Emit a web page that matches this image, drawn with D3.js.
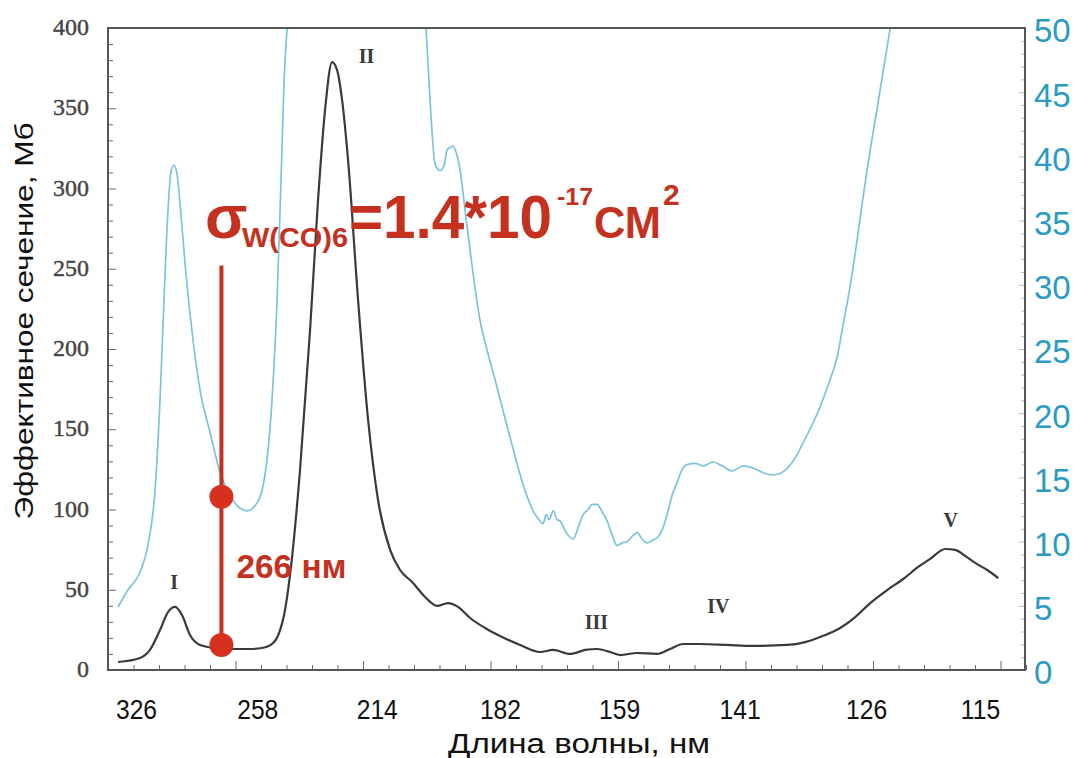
<!DOCTYPE html>
<html>
<head>
  <meta charset="utf-8"/>
  <title>W(CO)6</title>
  <style>
    body { margin: 0; background: #fff; }
    svg { display: block; }
  </style>
</head>
<body>
<div id="graph"></div>
<script src="https://cdn.jsdelivr.net/npm/d3@7"></script>
<script>
    // x tick labels, nm (spaced 1 eV apart)
    var tickNm = [326, 258, 214, 182, 159, 141, 126, 115];
    var leftTicks = [0, 50, 100, 150, 200, 250, 300, 350, 400];
    var rightTicks = [0, 5, 10, 15, 20, 25, 30, 35, 40, 45, 50];

    // black curve: [photon energy eV, cross-section Mb]
    var crossSection = [
      [3.655,5.0],[3.837,7.5],[3.919,12.5],[4.002,24.9],[4.068,36.1],[4.126,39.3],
      [4.184,34.3],[4.250,21.8],[4.333,15.6],[4.457,13.7],[4.581,13.1],[4.746,13.1],
      [4.846,13.7],[4.937,16.8],[4.995,24.9],[5.028,34.3],[5.077,59],[5.160,124.6],
      [5.243,211.9],[5.309,292.9],[5.367,349],[5.425,378.8],[5.466,373.9],[5.508,355],
      [5.557,317.8],[5.640,230.5],[5.723,155.8],[5.805,105.9],[5.905,74.8],[5.987,62.3],
      [6.087,54.8],[6.194,45.5],[6.293,39.9],[6.384,41.7],[6.467,39.3],[6.566,32.4],
      [6.690,26.2],[6.814,21.2],[6.980,15.6],[7.145,11.2],[7.253,12.5],[7.393,10.0],
      [7.518,12.5],[7.617,13.1],[7.724,11.2],[7.807,9.3],[7.947,10.6],[8.113,10.0],
      [8.220,13.1],[8.328,16.2],[8.468,16.2],[8.692,15.6],[8.907,15.0],[9.188,15.6],
      [9.337,17.4],[9.461,20.6],[9.627,26.2],[9.751,33.0],[9.875,41.7],[10.015,49.8],
      [10.148,56.7],[10.272,64.2],[10.371,69.2],[10.495,75.4],[10.578,74.8],[10.661,71.0],
      [10.743,66.7],[10.843,62.3],[10.934,57.3]
    ];

    // blue curve: [eV, right axis value], null = off the top of the plot
    var absorption = [
      [3.655,4.91],[3.737,6.23],[3.837,7.63],[3.903,9.74],[3.961,14.0],[4.002,21.0],
      [4.035,28.8],[4.068,35.8],[4.093,38.8],[4.118,39.3],[4.143,38.6],[4.176,35.4],
      [4.217,30.8],[4.275,25.7],[4.333,21.8],[4.416,18.5],[4.498,15.4],[4.581,13.6],
      [4.664,12.6],[4.722,12.4],[4.788,12.8],[4.846,14.0],[4.887,16.4],[4.928,21.0],
      [4.970,28.8],[5.003,38.2],[5.028,45.9],[5.053,50],
      [5.6,null],
      [6.202,50],[6.235,44.4],[6.277,39.4],[6.318,38.9],[6.351,39.3],[6.376,40.5],
      [6.401,40.7],[6.426,40.8],[6.451,40.3],[6.484,38.9],[6.525,35.8],[6.566,32.7],
      [6.649,27.2],[6.707,24.9],[6.773,22.6],[6.839,20.2],[6.914,17.5],[6.980,15.2],
      [7.038,13.5],[7.087,12.4],[7.129,11.8],[7.170,11.4],[7.195,12.1],[7.220,11.7],
      [7.253,12.4],[7.286,11.7],[7.311,11.6],[7.361,10.7],[7.419,10.2],[7.460,11.1],
      [7.501,12.1],[7.543,12.5],[7.576,12.9],[7.617,12.9],[7.659,12.3],[7.700,11.6],
      [7.741,10.5],[7.782,9.7],[7.824,9.9],[7.865,10.0],[7.906,10.4],[7.947,10.7],
      [7.989,10.2],[8.030,9.9],[8.072,10.1],[8.113,10.3],[8.154,10.9],[8.195,12.1],
      [8.237,13.6],[8.278,14.6],[8.319,15.6],[8.361,16.0],[8.427,16.1],[8.493,15.9],
      [8.576,16.2],[8.650,15.9],[8.733,15.5],[8.824,15.9],[8.882,15.8],[8.940,15.6],
      [9.006,15.3],[9.072,15.2],[9.130,15.3],[9.188,15.7],[9.254,16.5],[9.320,17.7],
      [9.395,19.1],[9.461,20.5],[9.527,22.2],[9.602,24.4],[9.651,26.9],[9.709,29.9],
      [9.767,33.5],[9.817,36.9],[9.875,40.5],[9.933,43.8],[9.990,47.1],[10.040,50]
    ];

    // band labels: [name, eV, Mb at baseline]
    var bands = [["I",4.12,50.5],["II",5.71,378],["III",7.61,25.5],["IV",8.62,35.5],["V",10.54,89]];

    // 266 nm marker as drawn
    var markerEv = 4.51, markerBlack = 15.6, markerBlue = 13.5, markerTop = 252;

    var width = 1087, height = 758;
    var frame = {left: 108, right: 1025, top: 28, bottom: 670};
    var red = "#c4321f";

    var x = d3.scaleLinear().domain([3.572, 11.155]).range([frame.left, frame.right]);
    var yL = d3.scaleLinear().domain([0, 400]).range([frame.bottom, frame.top]);
    var yR = d3.scaleLinear().domain([0, 50]).range([frame.bottom, frame.top]);
    var xFrame = d3.scaleLinear().domain([0, 36]).range([frame.left, frame.left + 36 * 25.5]);

    var svg = d3.select("#graph").append("svg")
        .attr("width", width).attr("height", height)
        .style("font-family", "'Liberation Sans', Arial, sans-serif");

    svg.append("defs").append("clipPath").attr("id", "plot")
      .append("rect").attr("x", frame.left).attr("y", frame.top)
      .attr("width", frame.right - frame.left).attr("height", frame.bottom - frame.top);

    // inward frame ticks
    svg.append("g").attr("transform", "translate(" + frame.left + ",0)")
      .call(d3.axisRight(yL).tickValues(d3.range(0, 401, 10)).tickFormat("")
        .tickSize(4))
      .call(function(g) {
        g.select(".domain").remove();
        g.selectAll(".tick line").attr("stroke", "#666")
          .attr("x2", function(d) { return d % 50 === 0 ? 8 : 5; });
      });
    svg.append("g").attr("transform", "translate(0," + frame.bottom + ")")
      .call(d3.axisTop(xFrame).tickValues(d3.range(0, 37)).tickFormat(""))
      .call(function(g) {
        g.select(".domain").remove();
        g.selectAll(".tick line").attr("stroke", "#666")
          .attr("y2", function(d) { return d % 5 === 0 ? -9 : -5; });
      });
    svg.append("g").attr("transform", "translate(" + frame.right + ",0)")
      .call(d3.axisLeft(yR).tickValues(d3.range(0, 51, 1)).tickFormat(""))
      .call(function(g) {
        g.select(".domain").remove();
        g.selectAll(".tick line").attr("stroke", "#9cc6d6")
          .attr("x2", function(d) { return d % 5 === 0 ? -6 : -4; });
      });

    // curves
    svg.append("path").datum(absorption)
      .attr("clip-path", "url(#plot)")
      .attr("fill", "none").attr("stroke", "#7cc3dc").attr("stroke-width", 1.7)
      .attr("d", d3.line().defined(function(d) { return d[1] !== null; })
        .x(function(d) { return x(d[0]); }).y(function(d) { return yR(d[1]); })
        .curve(d3.curveMonotoneX));

    svg.append("path").datum(crossSection)
      .attr("fill", "none").attr("stroke", "#3a3a3a").attr("stroke-width", 2.2)
      .attr("d", d3.line().x(function(d) { return x(d[0]); }).y(function(d) { return yL(d[1]); })
        .curve(d3.curveMonotoneX));

    // frame
    svg.append("rect").attr("x", frame.left).attr("y", frame.top)
      .attr("width", frame.right - frame.left).attr("height", frame.bottom - frame.top)
      .attr("fill", "none").attr("stroke", "#555").attr("stroke-width", 2);

    // band labels
    svg.selectAll(".band").data(bands).enter().append("text")
      .attr("class", "band")
      .attr("x", function(d) { return x(d[1]); })
      .attr("y", function(d) { return yL(d[2]); })
      .attr("text-anchor", "middle")
      .attr("font-family", "'Liberation Serif', 'Times New Roman', serif")
      .attr("font-weight", "bold").attr("font-size", 20).attr("fill", "#3a3a3a")
      .text(function(d) { return d[0]; });

    // left axis labels
    svg.append("g").attr("transform", "translate(" + frame.left + ",0)")
      .call(d3.axisLeft(yL).tickValues(leftTicks).tickSize(0).tickPadding(19))
      .call(function(g) {
        g.select(".domain").remove();
        g.selectAll("text").attr("font-family", "'Liberation Serif', 'Times New Roman', serif")
          .attr("font-size", 24).attr("fill", "#444").attr("dy", "0.28em")
          .attr("stroke", "#444").attr("stroke-width", 0.4);
      });

    // right axis labels
    svg.append("g").attr("transform", "translate(" + frame.right + ",0)")
      .call(d3.axisRight(yR).tickValues(rightTicks).tickSize(0).tickPadding(9))
      .call(function(g) {
        g.select(".domain").remove();
        g.selectAll("text").attr("font-family", "'Liberation Sans', Arial, sans-serif")
          .attr("font-size", 33).attr("fill", "#2a9bc2").attr("dy", "0.42em");
      });

    // bottom axis labels
    svg.append("g").attr("transform", "translate(0," + frame.bottom + ")")
      .call(d3.axisBottom(x).tickValues(tickNm.map(function(n) { return 1240 / n; }))
        .tickFormat(function(d, i) { return tickNm[i]; }).tickSize(0))
      .call(function(g) {
        g.select(".domain").remove();
        g.selectAll("text").attr("font-family", "'Liberation Sans', Arial, sans-serif")
          .attr("font-size", 28).attr("fill", "#111")
          .attr("y", 49).attr("dy", null)
          .attr("transform", "scale(0.88,1)");
      });

    // axis titles
    svg.append("text").attr("x", 579).attr("y", 753).attr("text-anchor", "middle")
      .attr("font-size", 27).attr("fill", "#111")
      .attr("textLength", 262).attr("lengthAdjust", "spacingAndGlyphs")
      .text("Длина волны, нм");
    svg.append("text").attr("transform", "translate(33,321) rotate(-90)")
      .attr("text-anchor", "middle").attr("font-size", 26).attr("fill", "#111")
      .attr("textLength", 397).attr("lengthAdjust", "spacingAndGlyphs")
      .text("Эффективное сечение, Мб");

    // 266 nm marker
    svg.append("line")
      .attr("x1", x(markerEv)).attr("x2", x(markerEv))
      .attr("y1", yL(markerTop)).attr("y2", yL(markerBlack))
      .attr("stroke", red).attr("stroke-width", 4);
    svg.append("circle").attr("cx", x(markerEv)).attr("cy", yR(markerBlue)).attr("r", 12)
      .attr("fill", "#d8301f");
    svg.append("circle").attr("cx", x(markerEv)).attr("cy", yL(markerBlack)).attr("r", 12)
      .attr("fill", "#d8301f");
    svg.append("text").attr("x", x(markerEv) + 15).attr("y", 578)
      .attr("font-size", 33).attr("font-weight", "bold").attr("fill", red)
      .attr("textLength", 110).attr("lengthAdjust", "spacingAndGlyphs")
      .text("266 нм");

    // sigma formula
    var f = svg.append("text").attr("font-weight", "bold").attr("fill", red);
    f.append("tspan").attr("x", 205).attr("y", 238).attr("font-size", 62).text("σ");
    f.append("tspan").attr("x", 242).attr("y", 247).attr("font-size", 28)
      .attr("textLength", 106).attr("lengthAdjust", "spacingAndGlyphs").text("W(CO)6");
    f.append("tspan").attr("x", 349).attr("y", 238).attr("font-size", 62)
      .attr("textLength", 203).attr("lengthAdjust", "spacingAndGlyphs").text("=1.4*10");
    f.append("tspan").attr("x", 557).attr("y", 205).attr("font-size", 24)
      .attr("textLength", 36).attr("lengthAdjust", "spacingAndGlyphs").text("-17");
    f.append("tspan").attr("x", 594).attr("y", 238).attr("font-size", 44)
      .attr("textLength", 67).attr("lengthAdjust", "spacingAndGlyphs").text("СМ");
    f.append("tspan").attr("x", 663).attr("y", 205).attr("font-size", 30).text("2");
</script>
</body>
</html>
